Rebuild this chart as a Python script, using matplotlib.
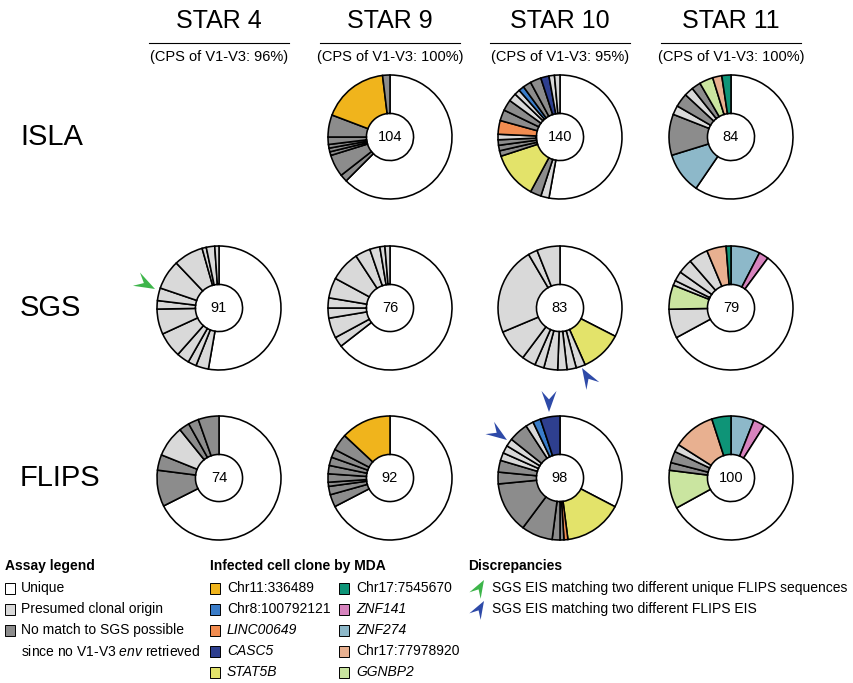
import matplotlib
matplotlib.use("Agg")
import matplotlib.pyplot as plt
from matplotlib.patches import Polygon, Rectangle
import numpy as np

plt.rcParams["font.family"] = ["Liberation Sans", "DejaVu Sans"]
plt.rcParams["mathtext.fontset"] = "custom"
plt.rcParams["mathtext.rm"] = "Liberation Sans"
plt.rcParams["mathtext.it"] = "Liberation Sans:italic"

W, H = 854, 683

columns = ["STAR 4", "STAR 9", "STAR 10", "STAR 11"]
cps_values = ["96%", "100%", "95%", "100%"]
assays = ["ISLA", "SGS", "FLIPS"]

# slice categories: U = unique, P = presumed clonal origin, N = no match possible
assay_labels = ["Unique", "Presumed clonal origin", "No match to SGS possible"]
assay_colors = ["#FFFFFF", "#D9D9D9", "#8C8C8C"]

clone_names = ["Chr11:336489", "Chr8:100792121", "LINC00649", "CASC5", "STAT5B",
               "Chr17:7545670", "ZNF141", "ZNF274", "Chr17:77978920", "GGNBP2"]
clone_colors = ["#F0B41C", "#3A7DC9", "#F28C50", "#2E3F8F", "#E3E36A",
                "#0E9477", "#D783BE", "#8DB8C9", "#E8B090", "#CAE5A0"]
clone_italic = [False, False, True, True, True, False, True, True, False, True]

palette = {"U": assay_colors[0], "P": assay_colors[1], "N": assay_colors[2]}
palette.update(dict(zip(clone_names, clone_colors)))

# slices listed clockwise from 12 o'clock
isla_star9_kinds = ["U", "N", "N", "N", "N", "N", "N", "N", "Chr11:336489", "N"]
isla_star9_counts = [65, 2, 6, 1, 1, 1, 2, 6, 18, 2]

isla_star10_kinds = ["U", "P", "N", "STAT5B", "N", "N", "N", "P", "LINC00649",
                     "N", "N", "P", "P", "Chr8:100792121", "N", "N", "CASC5", "P", "P"]
isla_star10_counts = [74, 3, 4, 17, 2, 2, 2, 2, 5, 4, 4, 3, 2, 2, 3, 4, 3, 2, 2]

isla_star11_kinds = ["U", "ZNF274", "N", "P", "N", "P", "N", "GGNBP2",
                     "Chr17:77978920", "Chr17:7545670"]
isla_star11_counts = [50, 9, 9, 2, 3, 2, 2, 3, 2, 2]

sgs_star4_kinds = ["U"] + ["P"] * 12
sgs_star4_counts = [48, 3, 2, 3, 6, 6, 2, 3, 7, 7, 1, 2, 1]

sgs_star9_kinds = ["U"] + ["P"] * 10
sgs_star9_counts = [49, 2, 4, 2, 2, 4, 6, 3, 2, 1, 1]

sgs_star10_kinds = ["U", "STAT5B"] + ["P"] * 10
sgs_star10_counts = [27, 9, 2, 2, 2, 3, 2, 3, 7, 19, 2, 5]

sgs_star11_kinds = ["ZNF274", "ZNF141", "U", "P", "GGNBP2", "P", "P", "P", "P",
                    "Chr17:77978920", "Chr17:7545670"]
sgs_star11_counts = [6, 2, 45, 6, 5, 1, 2, 3, 4, 4, 1]

flips_star4_kinds = ["U", "N", "N", "P", "N", "N", "N"]
flips_star4_counts = [50, 7, 3, 6, 2, 2, 4]

flips_star9_kinds = ["U"] + ["N"] * 8 + ["Chr11:336489"]
flips_star9_counts = [62, 3, 2, 1, 2, 2, 2, 2, 4, 12]

flips_star10_kinds = ["U", "STAT5B", "LINC00649", "N", "N", "N", "N", "N", "N",
                      "P", "P", "P", "N", "P", "Chr8:100792121", "CASC5"]
flips_star10_counts = [32, 15, 1, 1, 2, 8, 13, 3, 3, 2, 2, 2, 5, 2, 2, 5]

flips_star11_kinds = ["ZNF274", "ZNF141", "U", "GGNBP2", "N", "N", "P",
                      "Chr17:77978920", "Chr17:7545670"]
flips_star11_counts = [6, 3, 58, 10, 2, 3, 2, 11, 5]

donuts = {
    ("ISLA", "STAR 9"): (isla_star9_kinds, isla_star9_counts),
    ("ISLA", "STAR 10"): (isla_star10_kinds, isla_star10_counts),
    ("ISLA", "STAR 11"): (isla_star11_kinds, isla_star11_counts),
    ("SGS", "STAR 4"): (sgs_star4_kinds, sgs_star4_counts),
    ("SGS", "STAR 9"): (sgs_star9_kinds, sgs_star9_counts),
    ("SGS", "STAR 10"): (sgs_star10_kinds, sgs_star10_counts),
    ("SGS", "STAR 11"): (sgs_star11_kinds, sgs_star11_counts),
    ("FLIPS", "STAR 4"): (flips_star4_kinds, flips_star4_counts),
    ("FLIPS", "STAR 9"): (flips_star9_kinds, flips_star9_counts),
    ("FLIPS", "STAR 10"): (flips_star10_kinds, flips_star10_counts),
    ("FLIPS", "STAR 11"): (flips_star11_kinds, flips_star11_counts),
}

GREEN = "#3DB54A"
BLUE = "#2E4AA8"

fig = plt.figure(figsize=(W / 100, H / 100), dpi=100)
ov = fig.add_axes([0, 0, 1, 1])
ov.set_xlim(0, W)
ov.set_ylim(H, 0)
ov.axis("off")

col_x = [219, 390, 560, 731]
row_y = [137, 308, 478]
R = 62

# column headers
for x, name, cps in zip(col_x, columns, cps_values):
    ov.text(x, 21, name, ha="center", va="center", fontsize=18)
    ov.plot([x - 70, x + 70], [43, 43], color="black", lw=0.8)
    ov.text(x, 57, f"(CPS of V1-V3: {cps})", ha="center", va="center", fontsize=10.5)

# row labels
for y, name in zip(row_y, assays):
    ov.text(20, y, name, ha="left", va="center", fontsize=21)

# donuts
pad = 1.04
for (assay, star), (kinds, counts) in donuts.items():
    cx = col_x[columns.index(star)]
    cy = row_y[assays.index(assay)]
    s = R * pad
    a = fig.add_axes([(cx - s) / W, 1 - (cy + s) / H, 2 * s / W, 2 * s / H])
    a.pie(counts, colors=[palette[k] for k in kinds], startangle=90,
          counterclock=False,
          wedgeprops=dict(width=0.62, edgecolor="black", linewidth=1.15))
    a.set_xlim(-pad, pad)
    a.set_ylim(-pad, pad)
    a.set_aspect("equal")
    a.axis("off")
    a.text(0, 0, str(sum(counts)), ha="center", va="center", fontsize=10.5)


def dart(tip, angle_deg, color, length=21, half_width=7.5):
    th = np.deg2rad(angle_deg)
    local = np.array([[0, 0], [-length, half_width], [-0.6 * length, 0],
                      [-length, -half_width]])
    rot = np.array([[np.cos(th), -np.sin(th)], [np.sin(th), np.cos(th)]])
    pts = local @ rot.T + np.array(tip)
    ov.add_patch(Polygon(pts, closed=True, facecolor=color, edgecolor="none",
                         zorder=5))


# discrepancy markers
dart((155, 289), 28, GREEN)
dart((582, 368), -121, BLUE)
dart((549, 412), 90, BLUE)
dart((507, 440), 35, BLUE)

# legend: assay categories
ov.text(5, 566, "Assay legend", fontsize=10, fontweight="bold", va="center")
legend_rows = [588, 609, 630, 651, 672]
for y, lab, col in zip(legend_rows, assay_labels, assay_colors):
    ov.add_patch(Rectangle((5, y - 5.5), 10, 11, facecolor=col, edgecolor="black",
                           lw=0.7))
    ov.text(21, y, lab, fontsize=10, va="center")
ov.text(21, legend_rows[3], r"since no V1-V3 $\mathit{env}$ retrieved",
        fontsize=10, va="center")

# legend: infected cell clones
ov.text(210, 566, "Infected cell clone by MDA", fontsize=10, fontweight="bold",
        va="center")
for i, (name, col, it) in enumerate(zip(clone_names, clone_colors, clone_italic)):
    x0 = 210 if i < 5 else 339
    y = legend_rows[i % 5]
    ov.add_patch(Rectangle((x0, y - 5.5), 10, 11, facecolor=col, edgecolor="black",
                           lw=0.7))
    ov.text(x0 + 17, y, name, fontsize=10, va="center",
            fontstyle="italic" if it else "normal")

# legend: discrepancies
ov.text(468, 566, "Discrepancies", fontsize=10, fontweight="bold", va="center")
dart((484, 580), -60, GREEN, length=18, half_width=6.5)
ov.text(492, 588, "SGS EIS matching two different unique FLIPS sequences",
        fontsize=10, va="center")
dart((484, 601), -60, BLUE, length=18, half_width=6.5)
ov.text(492, 609, "SGS EIS matching two different FLIPS EIS", fontsize=10,
        va="center")

fig.savefig("out.png", dpi=100)
